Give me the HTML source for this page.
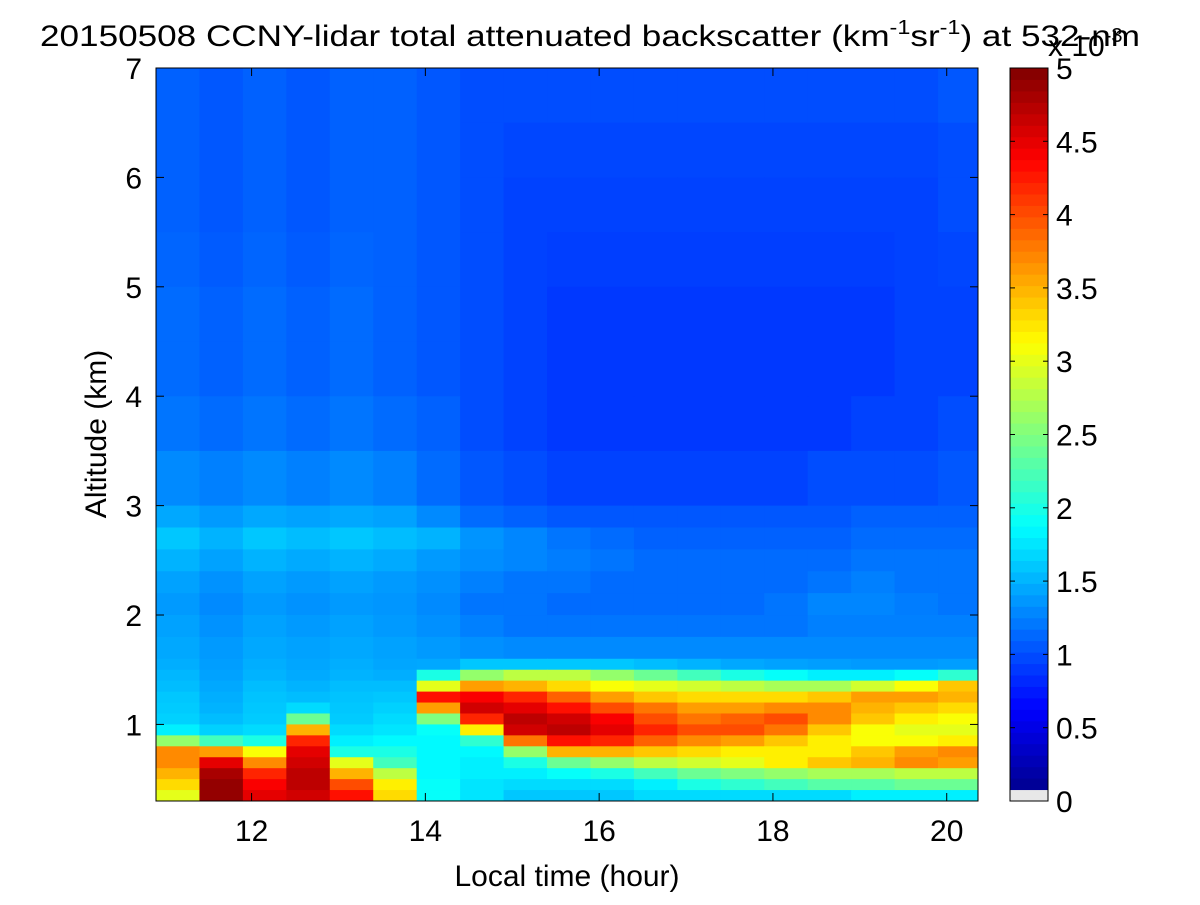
<!DOCTYPE html>
<html><head><meta charset="utf-8"><style>
body{margin:0;background:#fff;}
svg text{font-family:"Liberation Sans",Arial,sans-serif;fill:#000;}
</style></head><body>
<svg id="chart" width="1200" height="900" xmlns="http://www.w3.org/2000/svg">
<rect width="1200" height="900" fill="#fff"/>
<g id="heat"></g>
<rect x="156" y="68" width="822" height="733" fill="none" stroke="#000" stroke-width="1"/>
<g id="axes"></g>
<g id="cbar"></g>
<text x="590" y="46" font-size="30" text-anchor="middle" textLength="1100" lengthAdjust="spacingAndGlyphs">20150508 CCNY-lidar total attenuated backscatter (km<tspan dy="-12" font-size="20">-1</tspan><tspan dy="12">sr</tspan><tspan dy="-12" font-size="20">-1</tspan><tspan dy="12">) at 532-nm</tspan></text>
<text x="567" y="886" font-size="30" text-anchor="middle">Local time (hour)</text>
<text transform="translate(106,434) rotate(-90)" font-size="30" text-anchor="middle">Altitude (km)</text>
<text x="1048" y="56" font-size="30">x 10<tspan dy="-14" font-size="20">-3</tspan></text>
</svg>
<script>
const timeEdges=[10.9,11.4,11.9,12.4,12.9,13.4,13.9,14.4,14.9,15.4,15.9,16.4,16.9,17.4,17.9,18.4,18.9,19.4,19.9,20.4];
const altEdges=[7,6.5,6,5.5,5,4.5,4,3.5,3,2.8,2.6,2.4,2.2,2.0,1.8,1.6,1.5,1.4,1.3,1.2,1.1,1.0,0.9,0.8,0.7,0.6,0.5,0.4,0.3];
const backscatter=[
[1.1,1.05,1.1,1.05,1.1,1.1,1.05,1.0,1.0,1.0,1.0,1.0,1.0,1.0,1.0,1.0,1.0,1.0,1.05],
[1.1,1.05,1.1,1.05,1.1,1.1,1.05,1.0,0.97,0.97,0.97,0.97,0.97,0.97,0.97,0.97,0.97,0.97,1.0],
[1.1,1.05,1.1,1.05,1.1,1.1,1.05,1.0,0.95,0.95,0.95,0.95,0.95,0.95,0.95,0.95,0.95,0.95,1.0],
[1.12,1.07,1.12,1.07,1.12,1.1,1.05,1.0,0.95,0.93,0.93,0.93,0.93,0.93,0.93,0.93,0.93,0.95,0.97],
[1.15,1.1,1.15,1.1,1.15,1.1,1.05,1.0,0.95,0.9,0.9,0.9,0.9,0.9,0.9,0.9,0.9,0.95,0.95],
[1.15,1.1,1.15,1.1,1.15,1.1,1.05,1.0,0.95,0.9,0.9,0.9,0.9,0.9,0.9,0.9,0.9,0.95,0.95],
[1.2,1.15,1.2,1.15,1.2,1.15,1.1,1.0,0.95,0.9,0.9,0.9,0.9,0.9,0.9,0.9,0.95,0.95,1.0],
[1.3,1.25,1.3,1.25,1.3,1.25,1.15,1.05,1.0,0.95,0.95,0.95,0.95,0.95,0.95,1.0,1.0,1.0,1.05],
[1.45,1.38,1.45,1.42,1.45,1.42,1.3,1.15,1.1,1.05,1.05,1.05,1.05,1.05,1.05,1.05,1.1,1.1,1.1],
[1.6,1.5,1.6,1.55,1.6,1.55,1.5,1.35,1.28,1.2,1.15,1.1,1.1,1.1,1.1,1.1,1.15,1.15,1.15],
[1.5,1.42,1.5,1.46,1.5,1.46,1.38,1.32,1.28,1.24,1.2,1.15,1.15,1.15,1.15,1.15,1.2,1.2,1.2],
[1.42,1.34,1.42,1.38,1.42,1.38,1.33,1.25,1.2,1.2,1.15,1.15,1.15,1.15,1.15,1.2,1.25,1.2,1.2],
[1.38,1.3,1.38,1.34,1.38,1.36,1.3,1.2,1.2,1.15,1.15,1.15,1.15,1.15,1.2,1.28,1.28,1.24,1.2],
[1.42,1.34,1.42,1.38,1.42,1.38,1.33,1.25,1.2,1.2,1.2,1.2,1.2,1.2,1.2,1.25,1.25,1.25,1.25],
[1.45,1.38,1.45,1.42,1.45,1.42,1.38,1.33,1.3,1.3,1.3,1.3,1.3,1.3,1.3,1.3,1.3,1.3,1.3],
[1.48,1.4,1.48,1.44,1.48,1.44,1.45,1.6,1.6,1.6,1.6,1.55,1.5,1.45,1.42,1.4,1.38,1.38,1.4],
[1.52,1.42,1.5,1.46,1.5,1.48,2.0,2.6,2.8,2.8,2.6,2.4,2.2,2.0,1.9,1.8,1.8,1.9,2.1],
[1.55,1.45,1.55,1.5,1.55,1.55,3.0,3.6,3.5,3.3,3.1,3.0,2.9,2.8,2.7,2.7,2.9,3.1,3.4],
[1.6,1.48,1.58,1.55,1.58,1.6,4.3,4.4,4.2,3.9,3.6,3.4,3.3,3.3,3.3,3.4,3.6,3.6,3.5],
[1.62,1.5,1.6,1.7,1.6,1.65,3.6,4.6,4.5,4.3,4.0,3.8,3.6,3.6,3.7,3.7,3.5,3.4,3.3],
[1.65,1.55,1.62,2.4,1.62,1.7,2.5,4.2,4.7,4.6,4.4,4.0,3.8,3.9,4.0,3.7,3.4,3.2,3.1],
[1.8,1.65,1.7,3.5,1.7,1.75,1.9,3.2,4.6,4.7,4.5,4.2,4.0,4.0,3.8,3.4,3.1,3.0,3.0],
[2.6,2.2,2.0,4.2,1.8,1.85,1.85,2.1,3.8,4.3,4.2,3.9,3.7,3.6,3.4,3.2,3.1,3.1,3.2],
[3.7,3.6,3.1,4.5,2.0,2.0,1.85,1.85,2.6,3.5,3.5,3.4,3.3,3.2,3.2,3.2,3.4,3.6,3.7],
[3.7,4.5,3.7,4.6,3.0,2.2,1.85,1.8,2.0,2.4,2.6,2.8,2.9,3.0,3.2,3.4,3.5,3.7,3.6],
[3.5,4.8,4.2,4.7,3.5,2.8,1.85,1.8,1.8,1.9,2.0,2.2,2.4,2.5,2.6,2.7,2.7,2.8,2.8],
[3.3,4.9,4.4,4.7,4.0,3.2,1.9,1.75,1.7,1.7,1.7,1.8,2.0,2.1,2.2,2.3,2.3,2.4,2.4],
[3.0,4.9,4.5,4.6,4.3,3.3,1.9,1.75,1.6,1.6,1.6,1.7,1.7,1.7,1.7,1.7,1.8,1.8,1.8]
];
const xTicks=[12,14,16,18,20];
const yTicks=[1,2,3,4,5,6,7];
const cTicks=[0,0.5,1,1.5,2,2.5,3,3.5,4,4.5,5];
const cTickLabels=["0","0.5","1","1.5","2","2.5","3","3.5","4","4.5","5"];

const NS="http://www.w3.org/2000/svg";
const PX0=156,PX1=978,PY0=68,PY1=801;
const X=t=>PX0+(t-10.9)/(20.36-10.9)*(PX1-PX0);
const Y=a=>PY1-(a-0.3)/(7-0.3)*(PY1-PY0);
const CB0=1010,CB1=1048;
const C=v=>PY1-v/5*(PY1-PY0);
function jet(v){const t=Math.max(0,Math.min(1,v/5));const f=x=>Math.round(255*Math.max(0,Math.min(1,1.5-Math.abs(4*t-x))));return `rgb(${f(3)},${f(2)},${f(1)})`;}
function mk(tag,attrs,parent){const e=document.createElementNS(NS,tag);for(const k in attrs)e.setAttribute(k,attrs[k]);parent.appendChild(e);return e;}
const heat=document.getElementById('heat');
backscatter.forEach((row,i)=>{row.forEach((v,j)=>{
 const x0=Math.max(X(timeEdges[j]),PX0),x1=Math.min(X(timeEdges[j+1]),PX1);
 const y0=Y(altEdges[i]),y1=Y(altEdges[i+1]);
 const r=mk('rect',{x:x0,y:y0,width:x1-x0+0.5,height:y1-y0+0.5,fill:jet(v)},heat);
 
 
});});
const axes=document.getElementById('axes');
xTicks.forEach(t=>{const x=X(t);
 mk('line',{x1:x,x2:x,y1:PY1,y2:PY1-8,stroke:'#000'},axes);
 mk('line',{x1:x,x2:x,y1:PY0,y2:PY0+8,stroke:'#000'},axes);
 const tx=mk('text',{x:x,y:PY1+40,'font-size':30,'text-anchor':'middle'},axes);tx.textContent=t;
 
 
});
yTicks.forEach(a=>{const y=Y(a);
 mk('line',{x1:PX0,x2:PX0+8,y1:y,y2:y,stroke:'#000'},axes);
 mk('line',{x1:PX1,x2:PX1-8,y1:y,y2:y,stroke:'#000'},axes);
 const tx=mk('text',{x:PX0-14,y:y+11,'font-size':30,'text-anchor':'end'},axes);tx.textContent=a;
 
 
});
const cb=document.getElementById('cbar');
for(let k=0;k<64;k++){const v0=k*5/64,v1=(k+1)*5/64;
 const r=mk('rect',{x:CB0,y:C(v1),width:CB1-CB0,height:C(v0)-C(v1)+0.5,fill:k==0?'#e8e8e8':jet((v0+v1)/2)},cb);
 
 
}
mk('rect',{x:CB0,y:PY0,width:CB1-CB0,height:PY1-PY0,fill:'none',stroke:'#000'},cb);
cTicks.forEach((v,i)=>{const y=C(v);
 mk('line',{x1:CB0,x2:CB0+5,y1:y,y2:y,stroke:'#000'},cb);
 mk('line',{x1:CB1,x2:CB1-5,y1:y,y2:y,stroke:'#000'},cb);
 const tx=mk('text',{x:CB1+8,y:y+11,'font-size':30},cb);tx.textContent=cTickLabels[i];
 
 
});
</script>
</body></html>
